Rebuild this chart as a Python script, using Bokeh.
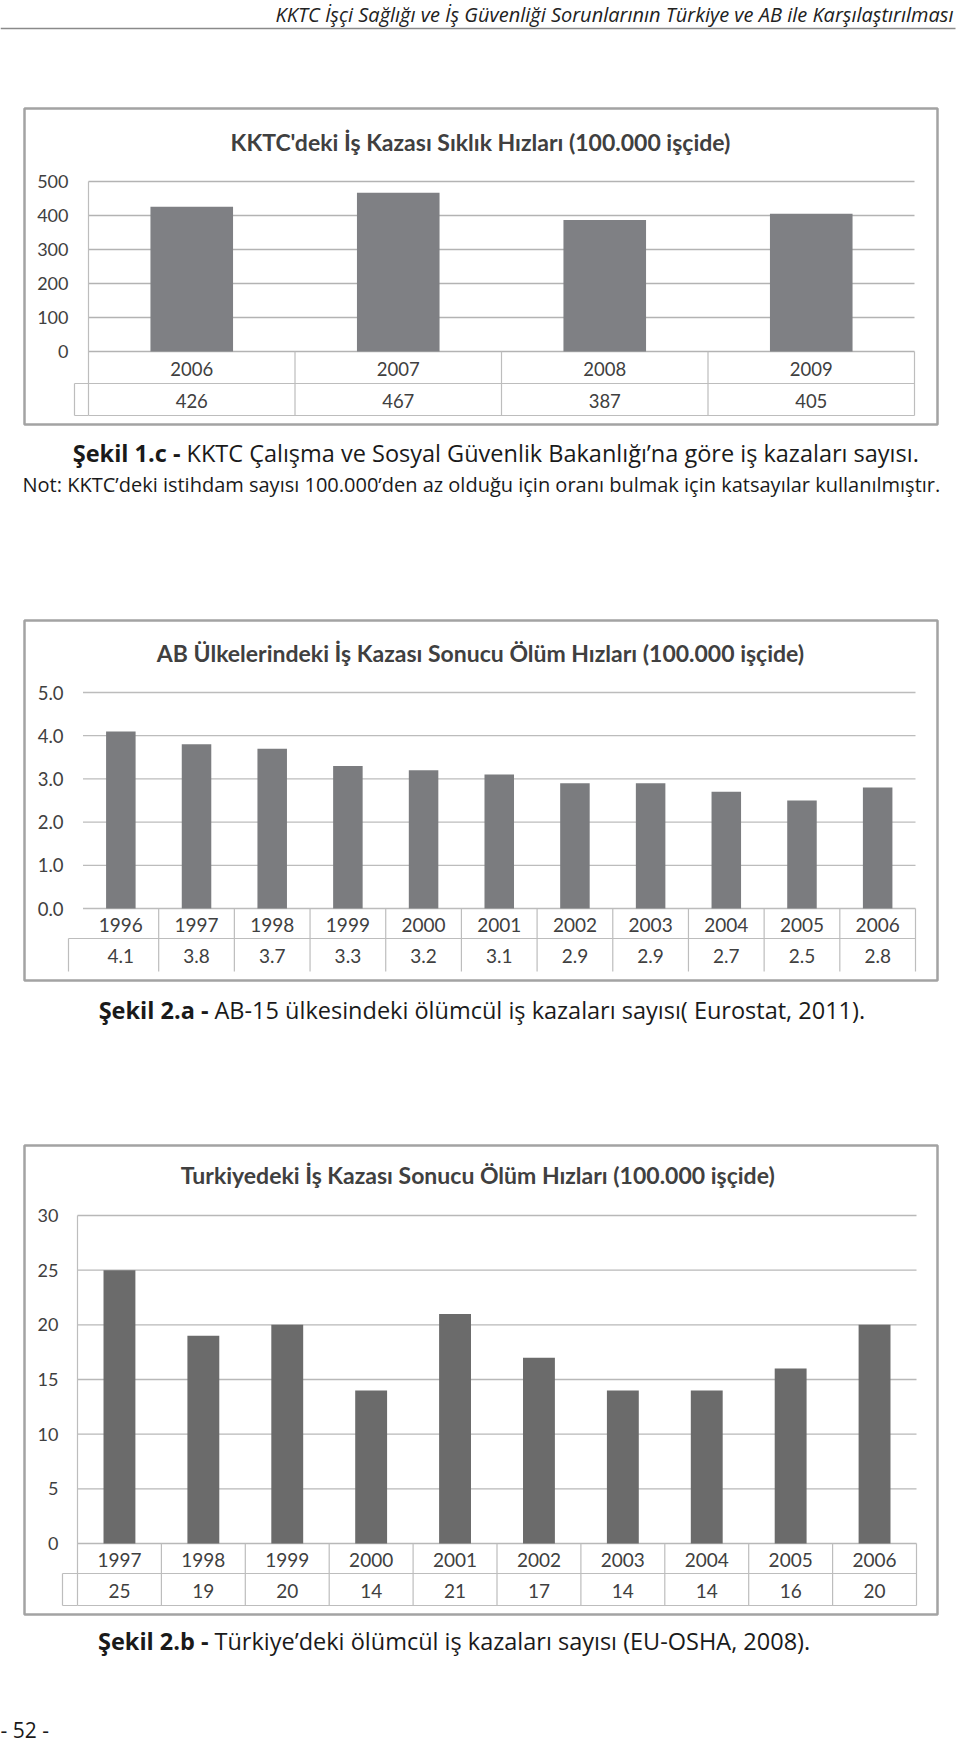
from bokeh.plotting import figure
from bokeh.models import Range1d
from bokeh.core.properties import value
from bokeh.embed import file_html
from bokeh.resources import INLINE

# ---------------- data ----------------
header_text = "KKTC İşçi Sağlığı ve İş Güvenliği Sorunlarının Türkiye ve AB ile Karşılaştırılması"

c1_title = "KKTC'deki İş Kazası Sıklık Hızları (100.000 işçide)"
c1_years = ["2006", "2007", "2008", "2009"]
c1_values = [426, 467, 387, 405]
c1_ticks = [0, 100, 200, 300, 400, 500]
c1_tick_labels = ["0", "100", "200", "300", "400", "500"]

c2_title = "AB Ülkelerindeki İş Kazası Sonucu Ölüm Hızları (100.000 işçide)"
c2_years = ["1996", "1997", "1998", "1999", "2000", "2001", "2002", "2003", "2004", "2005", "2006"]
c2_values = [4.1, 3.8, 3.7, 3.3, 3.2, 3.1, 2.9, 2.9, 2.7, 2.5, 2.8]
c2_ticks = [0, 1, 2, 3, 4, 5]
c2_tick_labels = ["0.0", "1.0", "2.0", "3.0", "4.0", "5.0"]

c3_title = "Turkiyedeki İş Kazası Sonucu  Ölüm Hızları (100.000 işçide)"
c3_years = ["1997", "1998", "1999", "2000", "2001", "2002", "2003", "2004", "2005", "2006"]
c3_values = [25, 19, 20, 14, 21, 17, 14, 14, 16, 20]
c3_ticks = [0, 5, 10, 15, 20, 25, 30]
c3_tick_labels = ["0", "5", "10", "15", "20", "25", "30"]

cap1_bold = "Şekil 1.c -"
cap1_text = "KKTC Çalışma ve Sosyal Güvenlik Bakanlığı’na göre iş kazaları sayısı."
note_text = "Not: KKTC’deki istihdam sayısı 100.000’den az olduğu için oranı bulmak için katsayılar kullanılmıştır."
cap2_bold = "Şekil 2.a -"
cap2_text = "AB-15 ülkesindeki ölümcül iş kazaları sayısı( Eurostat, 2011)."
cap3_bold = "Şekil 2.b -"
cap3_text = "Türkiye’deki ölümcül iş kazaları sayısı (EU-OSHA, 2008)."
page_no = "- 52 -"

# ---------------- page ----------------
W, H = 960, 1742
OX, OY = 0, 0
p = figure(width=W, height=H, x_range=Range1d(OX, OX + W), y_range=Range1d(OY + H, OY),
           output_backend="svg", toolbar_location=None, min_border=0,
           x_axis_location=None, y_axis_location=None)
p.grid.visible = False
p.outline_line_color = None
p.background_fill_color = "white"
p.border_fill_color = "white"

CH_FONT = value("Lato")
CAP_FONT = value("Open Sans")
TXT = "#404040"

# header
p.text(x=[953], y=[14], text=[header_text], text_font=CAP_FONT, text_font_style="italic",
       text_font_size="20px", text_align="right", text_baseline="middle", text_color="#222222")
p.segment(x0=[0], x1=[955], y0=[28], y1=[28], line_color="#8a8a8a", line_width=1.5)


def chart(key, frame, L, R, Y0, S, ticks, tick_labels, tick_right, years, vals, val_labels,
          bar_color, bar_w, title, title_y, title_size, tick_size, lab_size, row1, row2,
          left_ext, full_table, axis_line, grid_color):
    n = len(years)
    Wc = (R - L) / n
    xk, yk = "x" + key, "y" + key
    p.extra_x_ranges[xk] = Range1d((OX - L) / Wc, (OX + W - L) / Wc)
    p.extra_y_ranges[yk] = Range1d((Y0 - (OY + H)) / S, (Y0 - OY) / S)

    # outer frame
    fl, fr, ft, fb = frame
    p.quad(left=[fl], right=[fr], top=[ft], bottom=[fb], fill_color=None,
           line_color="#a3a3a3", line_width=2.5)

    # title
    p.text(x=[480], y=[title_y], text=[title], text_font=CH_FONT,
           text_font_style="bold", text_font_size=title_size, text_align="center",
           text_baseline="middle", text_color=TXT)

    # gridlines
    p.segment(x0=[0] * len(ticks), x1=[n] * len(ticks), y0=ticks, y1=ticks,
              x_range_name=xk, y_range_name=yk, line_color=grid_color, line_width=1.3)
    # tick labels
    p.text(x=[tick_right] * len(ticks), y=ticks, text=tick_labels, y_range_name=yk,
           text_font=CH_FONT, text_font_size=tick_size, text_align="right",
           text_baseline="middle", text_color=TXT)

    # bars
    centers = [i + 0.5 for i in range(n)]
    p.vbar(x=centers, top=vals, bottom=0, width=bar_w, x_range_name=xk, y_range_name=yk,
           fill_color=bar_color, line_color=None)

    # data table
    tcol = "#bdbdbd"
    t0, t1, t2 = Y0, row1, row2
    bx = list(range(1, n))
    p.segment(x0=bx, x1=bx, y0=[t0] * len(bx), y1=[t2] * len(bx), x_range_name=xk,
              line_color=tcol, line_width=1.2)
    p.segment(x0=[n], x1=[n], y0=[t0], y1=[t2], x_range_name=xk, line_color=tcol, line_width=1.2)
    p.segment(x0=[left_ext], x1=[L], y0=[t1], y1=[t1], line_color=tcol, line_width=1.2)
    p.segment(x0=[left_ext], x1=[left_ext], y0=[t1], y1=[t2], line_color=tcol, line_width=1.2)
    p.segment(x0=[0], x1=[n], y0=[t1], y1=[t1], x_range_name=xk, line_color=tcol, line_width=1.2)
    if full_table:
        p.segment(x0=[left_ext], x1=[L], y0=[t2], y1=[t2], line_color=tcol, line_width=1.2)
        p.segment(x0=[0], x1=[n], y0=[t2], y1=[t2], x_range_name=xk, line_color=tcol, line_width=1.2)
    if axis_line:
        p.segment(x0=[0], x1=[0], y0=[Y0 - ticks[-1] * S], y1=[t2], x_range_name=xk,
                  line_color=tcol, line_width=1.2)

    p.text(x=centers, y=[(t0 + t1) / 2 + 1] * n, text=years, x_range_name=xk,
           text_font=CH_FONT, text_font_size=lab_size, text_align="center",
           text_baseline="middle", text_color=TXT)
    p.text(x=centers, y=[(t1 + t2) / 2 + 1] * n, text=val_labels, x_range_name=xk,
           text_font=CH_FONT, text_font_size=lab_size, text_align="center",
           text_baseline="middle", text_color=TXT)


chart("1", (24, 937, 108, 424), 88, 914, 351, 170 / 500, c1_ticks, c1_tick_labels, 68,
      c1_years, c1_values, [str(v) for v in c1_values], "#7f8084", 0.40,
      c1_title, 141, "23px", "18px", "18.5px", 383, 415, 74, True, True, "#b3b3b3")

chart("2", (24, 937, 620, 980), 82.5, 915, 908, 43.2, c2_ticks, c2_tick_labels, 63,
      c2_years, c2_values, ["%.1f" % v for v in c2_values], "#7b7c7f", 0.39,
      c2_title, 652, "23px", "18.5px", "19px", 938, 971, 68, False, False, "#bcbcbc")

chart("3", (24, 937, 1145, 1614), 77, 916, 1543, 328 / 30, c3_ticks, c3_tick_labels, 58,
      c3_years, c3_values, [str(v) for v in c3_values], "#6b6b6b", 0.38,
      c3_title, 1174, "23px", "18px", "19px", 1573, 1605, 62, True, True, "#b8b8b8")

# captions: bold label right-aligned against the regular text
def caption(y, x_sep, bold, text, size):
    p.text(x=[x_sep - 6], y=[y], text=[bold], text_font=CAP_FONT, text_font_style="bold",
           text_font_size=size, text_align="right", text_baseline="middle", text_color="#1a1a1a")
    p.text(x=[x_sep], y=[y], text=[text], text_font=CAP_FONT, text_font_size=size,
           text_align="left", text_baseline="middle", text_color="#1a1a1a")

caption(452, 186, cap1_bold, cap1_text, "23.5px")
p.text(x=[22], y=[484], text=[note_text], text_font=CAP_FONT, text_font_size="20px",
       text_align="left", text_baseline="middle", text_color="#1a1a1a")
caption(1009, 214, cap2_bold, cap2_text, "23.5px")
caption(1640, 214, cap3_bold, cap3_text, "23.5px")
p.text(x=[0], y=[1729], text=[page_no], text_font=CAP_FONT, text_font_size="21px",
       text_align="left", text_baseline="middle", text_color="#1a1a1a")

open("out.html", "w").write(file_html(p, INLINE))
